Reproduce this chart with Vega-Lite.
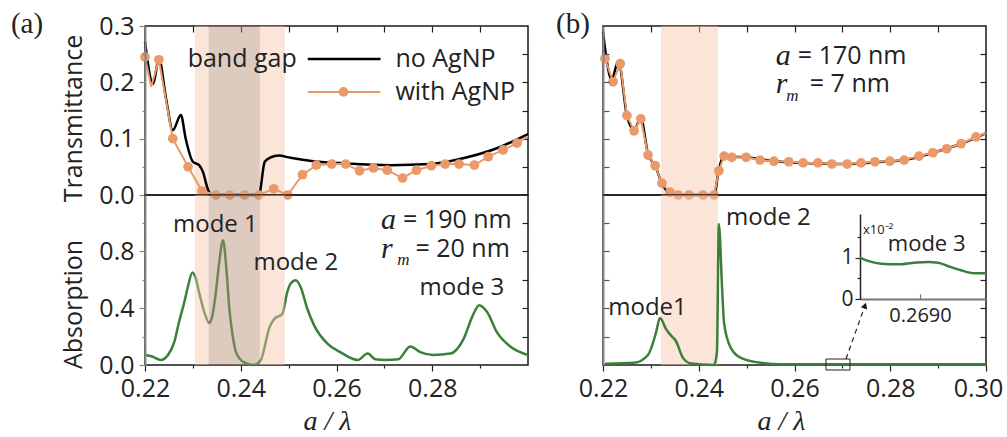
{
  "$schema": "https://vega.github.io/schema/vega-lite/v6.json",
  "background": "white",
  "padding": {"left": 10, "top": 8, "right": 2, "bottom": 4},
  "config": {
    "view": {"stroke": "#1a1a1a", "strokeWidth": 1.5},
    "axis": {"grid": false, "labelFont": "Open Sans", "titleFont": "Open Sans", "labelFontSize": 25, "titleFontSize": 25, "titleFontWeight": "normal", "labelColor": "#222", "titleColor": "#222", "tickColor": "#222", "tickWidth": 1.2, "domainColor": "#222", "domainWidth": 1.5, "labelFlush": false, "labelOverlap": false},
    "text": {"font": "Open Sans", "fontSize": 25, "color": "#222"}
  },
  "datasets": {
    "band_a": [{"x0": 0.2304, "x1": 0.2333, "kind": "light"}, {"x0": 0.2333, "x1": 0.2440, "kind": "dark"}, {"x0": 0.2440, "x1": 0.2492, "kind": "light"}],
    "band_b": [{"x0": 0.2321, "x1": 0.2440, "kind": "light"}],
    "black_a": [
      {"x": 0.2200, "t": 0.272}, {"x": 0.2217, "t": 0.197}, {"x": 0.2229, "t": 0.242}, {"x": 0.2244, "t": 0.171}, {"x": 0.2258, "t": 0.115}, {"x": 0.2275, "t": 0.142}, {"x": 0.2285, "t": 0.100}, {"x": 0.2300, "t": 0.059}, {"x": 0.2313, "t": 0.053}, {"x": 0.2321, "t": 0.041}, {"x": 0.2331, "t": 0.011}, {"x": 0.2338, "t": 0.0}, {"x": 0.2438, "t": 0.0}, {"x": 0.2450, "t": 0.059}, {"x": 0.2463, "t": 0.067}, {"x": 0.2479, "t": 0.070}, {"x": 0.2504, "t": 0.066}, {"x": 0.2552, "t": 0.060}, {"x": 0.2620, "t": 0.056}, {"x": 0.2713, "t": 0.053}, {"x": 0.2796, "t": 0.055}, {"x": 0.2873, "t": 0.067}, {"x": 0.2935, "t": 0.083}, {"x": 0.3000, "t": 0.108}
    ],
    "orange_a": [
      {"x": 0.2200, "t": 0.245}, {"x": 0.2213, "t": 0.192}, {"x": 0.2229, "t": 0.240}, {"x": 0.2258, "t": 0.100}, {"x": 0.2290, "t": 0.050}, {"x": 0.2319, "t": 0.007}, {"x": 0.2348, "t": 0.0}, {"x": 0.2377, "t": 0.0}, {"x": 0.2408, "t": 0.0}, {"x": 0.2438, "t": 0.0}, {"x": 0.2469, "t": 0.011}, {"x": 0.2498, "t": 0.0}, {"x": 0.2529, "t": 0.036}, {"x": 0.2558, "t": 0.053}, {"x": 0.2590, "t": 0.055}, {"x": 0.2619, "t": 0.055}, {"x": 0.2648, "t": 0.043}, {"x": 0.2677, "t": 0.048}, {"x": 0.2706, "t": 0.044}, {"x": 0.2738, "t": 0.030}, {"x": 0.2767, "t": 0.044}, {"x": 0.2798, "t": 0.052}, {"x": 0.2827, "t": 0.055}, {"x": 0.2856, "t": 0.055}, {"x": 0.2888, "t": 0.053}, {"x": 0.2917, "t": 0.068}, {"x": 0.2948, "t": 0.080}, {"x": 0.2977, "t": 0.092}, {"x": 0.3000, "t": 0.104}
    ],
    "orange_a_pts": [
      {"x": 0.2200, "t": 0.245}, {"x": 0.2229, "t": 0.240}, {"x": 0.2258, "t": 0.100}, {"x": 0.2290, "t": 0.050}, {"x": 0.2319, "t": 0.007}, {"x": 0.2348, "t": 0.0}, {"x": 0.2377, "t": 0.0}, {"x": 0.2408, "t": 0.0}, {"x": 0.2438, "t": 0.0}, {"x": 0.2469, "t": 0.011}, {"x": 0.2498, "t": 0.0}, {"x": 0.2529, "t": 0.036}, {"x": 0.2558, "t": 0.053}, {"x": 0.2590, "t": 0.055}, {"x": 0.2619, "t": 0.055}, {"x": 0.2648, "t": 0.043}, {"x": 0.2677, "t": 0.048}, {"x": 0.2706, "t": 0.044}, {"x": 0.2738, "t": 0.030}, {"x": 0.2767, "t": 0.044}, {"x": 0.2798, "t": 0.052}, {"x": 0.2827, "t": 0.055}, {"x": 0.2856, "t": 0.055}, {"x": 0.2888, "t": 0.053}, {"x": 0.2917, "t": 0.068}, {"x": 0.2948, "t": 0.080}, {"x": 0.2977, "t": 0.092}
    ],
    "green_a": [
      {"x": 0.2200, "a": 0.07}, {"x": 0.2215, "a": 0.06}, {"x": 0.2233, "a": 0.035}, {"x": 0.2248, "a": 0.07}, {"x": 0.2261, "a": 0.16}, {"x": 0.2271, "a": 0.30}, {"x": 0.2282, "a": 0.44}, {"x": 0.2289, "a": 0.54}, {"x": 0.2299, "a": 0.65}, {"x": 0.2306, "a": 0.61}, {"x": 0.2313, "a": 0.51}, {"x": 0.2324, "a": 0.37}, {"x": 0.2334, "a": 0.295}, {"x": 0.2341, "a": 0.35}, {"x": 0.2348, "a": 0.51}, {"x": 0.2355, "a": 0.72}, {"x": 0.2363, "a": 0.875}, {"x": 0.2371, "a": 0.63}, {"x": 0.2376, "a": 0.40}, {"x": 0.2383, "a": 0.21}, {"x": 0.2390, "a": 0.09}, {"x": 0.2406, "a": 0.02}, {"x": 0.2427, "a": 0.0}, {"x": 0.2442, "a": 0.035}, {"x": 0.2449, "a": 0.115}, {"x": 0.2459, "a": 0.255}, {"x": 0.2469, "a": 0.32}, {"x": 0.2487, "a": 0.36}, {"x": 0.2497, "a": 0.51}, {"x": 0.2504, "a": 0.57}, {"x": 0.2515, "a": 0.594}, {"x": 0.2525, "a": 0.547}, {"x": 0.2539, "a": 0.395}, {"x": 0.2553, "a": 0.28}, {"x": 0.2581, "a": 0.15}, {"x": 0.2608, "a": 0.09}, {"x": 0.2644, "a": 0.035}, {"x": 0.2665, "a": 0.08}, {"x": 0.2681, "a": 0.04}, {"x": 0.2702, "a": 0.035}, {"x": 0.2729, "a": 0.04}, {"x": 0.2754, "a": 0.13}, {"x": 0.2775, "a": 0.09}, {"x": 0.2802, "a": 0.07}, {"x": 0.2838, "a": 0.08}, {"x": 0.2865, "a": 0.18}, {"x": 0.2885, "a": 0.35}, {"x": 0.2898, "a": 0.42}, {"x": 0.2915, "a": 0.37}, {"x": 0.2935, "a": 0.23}, {"x": 0.2963, "a": 0.13}, {"x": 0.3000, "a": 0.07}
    ],
    "black_b": [
      {"x": 0.2200, "t": 0.290}, {"x": 0.2204, "t": 0.262}, {"x": 0.2218, "t": 0.205}, {"x": 0.2232, "t": 0.238}, {"x": 0.2250, "t": 0.141}, {"x": 0.2265, "t": 0.116}, {"x": 0.2279, "t": 0.136}, {"x": 0.2294, "t": 0.073}, {"x": 0.2309, "t": 0.052}, {"x": 0.2323, "t": 0.021}, {"x": 0.2340, "t": 0.003}, {"x": 0.2357, "t": 0.0}, {"x": 0.2432, "t": 0.0}, {"x": 0.2442, "t": 0.045}, {"x": 0.2453, "t": 0.070}, {"x": 0.2469, "t": 0.068}, {"x": 0.2499, "t": 0.067}, {"x": 0.2557, "t": 0.060}, {"x": 0.2649, "t": 0.056}, {"x": 0.2710, "t": 0.055}, {"x": 0.2768, "t": 0.058}, {"x": 0.2829, "t": 0.062}, {"x": 0.2889, "t": 0.075}, {"x": 0.2948, "t": 0.091}, {"x": 0.3000, "t": 0.110}
    ],
    "orange_b": [
      {"x": 0.2204, "t": 0.242}, {"x": 0.2221, "t": 0.201}, {"x": 0.2236, "t": 0.233}, {"x": 0.2250, "t": 0.141}, {"x": 0.2265, "t": 0.114}, {"x": 0.2279, "t": 0.135}, {"x": 0.2294, "t": 0.071}, {"x": 0.2309, "t": 0.052}, {"x": 0.2323, "t": 0.021}, {"x": 0.2340, "t": 0.005}, {"x": 0.2357, "t": 0.0}, {"x": 0.2380, "t": 0.0}, {"x": 0.2409, "t": 0.0}, {"x": 0.2432, "t": 0.0}, {"x": 0.2442, "t": 0.043}, {"x": 0.2453, "t": 0.069}, {"x": 0.2469, "t": 0.067}, {"x": 0.2499, "t": 0.067}, {"x": 0.2528, "t": 0.062}, {"x": 0.2557, "t": 0.060}, {"x": 0.2588, "t": 0.059}, {"x": 0.2618, "t": 0.057}, {"x": 0.2649, "t": 0.057}, {"x": 0.2678, "t": 0.055}, {"x": 0.2710, "t": 0.055}, {"x": 0.2739, "t": 0.057}, {"x": 0.2768, "t": 0.059}, {"x": 0.2799, "t": 0.060}, {"x": 0.2829, "t": 0.062}, {"x": 0.2860, "t": 0.069}, {"x": 0.2889, "t": 0.075}, {"x": 0.2918, "t": 0.082}, {"x": 0.2948, "t": 0.091}, {"x": 0.2979, "t": 0.103}, {"x": 0.3000, "t": 0.110}
    ],
    "orange_b_pts": [
      {"x": 0.2204, "t": 0.242}, {"x": 0.2221, "t": 0.201}, {"x": 0.2236, "t": 0.233}, {"x": 0.2250, "t": 0.141}, {"x": 0.2265, "t": 0.114}, {"x": 0.2279, "t": 0.135}, {"x": 0.2294, "t": 0.071}, {"x": 0.2309, "t": 0.052}, {"x": 0.2323, "t": 0.021}, {"x": 0.2340, "t": 0.005}, {"x": 0.2357, "t": 0.0}, {"x": 0.2380, "t": 0.0}, {"x": 0.2409, "t": 0.0}, {"x": 0.2432, "t": 0.0}, {"x": 0.2442, "t": 0.043}, {"x": 0.2453, "t": 0.069}, {"x": 0.2469, "t": 0.067}, {"x": 0.2499, "t": 0.067}, {"x": 0.2528, "t": 0.062}, {"x": 0.2557, "t": 0.060}, {"x": 0.2588, "t": 0.059}, {"x": 0.2618, "t": 0.057}, {"x": 0.2649, "t": 0.057}, {"x": 0.2678, "t": 0.055}, {"x": 0.2710, "t": 0.055}, {"x": 0.2739, "t": 0.057}, {"x": 0.2768, "t": 0.059}, {"x": 0.2799, "t": 0.060}, {"x": 0.2829, "t": 0.062}, {"x": 0.2860, "t": 0.069}, {"x": 0.2889, "t": 0.075}, {"x": 0.2918, "t": 0.082}, {"x": 0.2948, "t": 0.091}, {"x": 0.2979, "t": 0.103}
    ],
    "green_b": [
      {"x": 0.2204, "a": 0.008}, {"x": 0.2265, "a": 0.015}, {"x": 0.2294, "a": 0.07}, {"x": 0.2311, "a": 0.23}, {"x": 0.2319, "a": 0.33}, {"x": 0.2332, "a": 0.25}, {"x": 0.2344, "a": 0.20}, {"x": 0.2352, "a": 0.17}, {"x": 0.2367, "a": 0.05}, {"x": 0.2384, "a": 0.01}, {"x": 0.2432, "a": 0.0}, {"x": 0.2438, "a": 0.09}, {"x": 0.2442, "a": 0.99}, {"x": 0.2449, "a": 0.52}, {"x": 0.2453, "a": 0.29}, {"x": 0.2467, "a": 0.12}, {"x": 0.2488, "a": 0.05}, {"x": 0.2530, "a": 0.015}, {"x": 0.2572, "a": 0.006}, {"x": 0.3000, "a": 0.006}
    ],
    "inset_b": [
      {"ix": 0.26800, "iy": 1.007}, {"ix": 0.26813, "iy": 0.927}, {"ix": 0.26835, "iy": 0.861}, {"ix": 0.26863, "iy": 0.846}, {"ix": 0.26891, "iy": 0.885}, {"ix": 0.26913, "iy": 0.902}, {"ix": 0.26930, "iy": 0.885}, {"ix": 0.26946, "iy": 0.805}, {"ix": 0.26968, "iy": 0.700}, {"ix": 0.26991, "iy": 0.627}, {"ix": 0.27010, "iy": 0.627}
    ]
  },
  "hconcat": [
    {
      "vconcat": [
        {
          "width": 383, "height": 169,
          "layer": [
            {"data": {"name": "band_a"}, "mark": {"type": "rect", "opacity": 0.45},
             "encoding": {"x": {"field": "x0", "type": "quantitative", "scale": {"domain": [0.22, 0.3], "nice": false, "zero": false}, "axis": null}, "x2": {"field": "x1"},
               "color": {"field": "kind", "type": "nominal", "scale": {"domain": ["light", "dark"], "range": ["#F4C5A8", "#B38B71"]}, "legend": null}}},
            {"data": {"name": "black_a"}, "mark": {"type": "line", "color": "#000", "strokeWidth": 2.5, "interpolate": "monotone"},
             "encoding": {"x": {"field": "x", "type": "quantitative", "axis": null},
               "y": {"field": "t", "type": "quantitative", "scale": {"domain": [0, 0.3], "nice": false, "zero": false},
                 "axis": {"orient": "left", "values": [0, 0.05, 0.1, 0.15, 0.2, 0.25, 0.3], "labelExpr": "abs(datum.value*10-round(datum.value*10))<0.001 ? format(datum.value,'.1f') : ''", "tickSize": {"condition": {"test": "abs(datum.value*10-round(datum.value*10))<0.001", "value": 6}, "value": 3}, "labelPadding": 5, "title": "Transmittance", "titlePadding": 12, "titleY": 92, "domainColor": "#888", "domainWidth": 2, "tickColor": "#888", "zindex": 1}}}},
            {"data": {"name": "orange_a"}, "mark": {"type": "line", "color": "#EA9A6A", "strokeWidth": 2},
             "encoding": {"x": {"field": "x", "type": "quantitative", "axis": null}, "y": {"field": "t", "type": "quantitative", "axis": null}}},
            {"data": {"name": "orange_a_pts"}, "mark": {"type": "point", "filled": true, "color": "#EA9A6A", "size": 95, "opacity": 1},
             "encoding": {"x": {"field": "x", "type": "quantitative", "axis": null}, "y": {"field": "t", "type": "quantitative", "axis": null}}},
            {"data": {"values": [{}]}, "layer": [
              {"mark": {"type": "rule", "color": "#000", "strokeWidth": 2.5}, "encoding": {"x": {"datum": 0.2540, "axis": null}, "x2": {"datum": 0.2692}, "y": {"datum": 0.2416, "axis": null}}},
              {"mark": {"type": "rule", "color": "#EA9A6A", "strokeWidth": 2}, "encoding": {"x": {"datum": 0.2540, "axis": null}, "x2": {"datum": 0.2692}, "y": {"datum": 0.183, "axis": null}}},
              {"mark": {"type": "point", "filled": true, "color": "#EA9A6A", "size": 95, "opacity": 1}, "encoding": {"x": {"datum": 0.26146, "axis": null}, "y": {"datum": 0.183, "axis": null}}},
              {"mark": {"type": "text", "align": "right", "baseline": "middle"}, "encoding": {"x": {"datum": 0.2517, "axis": null}, "y": {"datum": 0.2416, "axis": null}, "text": {"value": "band gap"}}},
              {"mark": {"type": "text", "align": "left", "baseline": "middle"}, "encoding": {"x": {"datum": 0.2723, "axis": null}, "y": {"datum": 0.2416, "axis": null}, "text": {"value": "no AgNP"}}},
              {"mark": {"type": "text", "align": "left", "baseline": "middle"}, "encoding": {"x": {"datum": 0.2723, "axis": null}, "y": {"datum": 0.183, "axis": null}, "text": {"value": "with AgNP"}}},
              {"mark": {"type": "text", "align": "left", "baseline": "middle", "font": "Liberation Serif", "fontSize": 29, "color": "#222"}, "encoding": {"x": {"datum": 0.1920, "axis": null}, "y": {"datum": 0.3040, "axis": null}, "text": {"value": "(a)"}}}
            ]},
            {"data": {"name": "black_a"}, "mark": {"type": "line", "opacity": 0},
             "encoding": {"x": {"field": "x", "type": "quantitative", "axis": {"orient": "top", "values": [0.23, 0.24, 0.25, 0.26, 0.27, 0.28, 0.29], "labels": false, "tickSize": -6, "domain": false, "title": null}},
               "y": {"field": "t", "type": "quantitative", "axis": {"orient": "right", "values": [0.05, 0.1, 0.15, 0.2, 0.25], "labels": false, "tickSize": -6, "domain": false, "title": null}}}}
          ],
          "resolve": {"axis": {"x": "independent", "y": "independent"}}
        },
        {
          "width": 383, "height": 170,
          "layer": [
            {"data": {"name": "green_a"}, "mark": {"type": "line", "color": "#3B7F3B", "strokeWidth": 2.5, "interpolate": "monotone"},
             "encoding": {"x": {"field": "x", "type": "quantitative", "scale": {"domain": [0.22, 0.3], "nice": false, "zero": false},
                 "axis": {"orient": "bottom", "values": [0.22, 0.23, 0.24, 0.25, 0.26, 0.27, 0.28, 0.29], "labelExpr": "abs(datum.value*50-round(datum.value*50))<0.001 ? format(datum.value,'.2f') : ''", "tickSize": {"condition": {"test": "abs(datum.value*50-round(datum.value*50))<0.001", "value": 6}, "value": 3}, "labelPadding": 5, "domain": false, "title": "a / λ", "titleFont": "Liberation Serif", "titleFontStyle": "italic", "titleFontSize": 28, "titlePadding": 6, "titleX": 182}},
               "y": {"field": "a", "type": "quantitative", "scale": {"domain": [0, 1.193], "nice": false, "zero": false},
                 "axis": {"orient": "left", "values": [0, 0.2, 0.4, 0.6, 0.8, 1.0], "labelExpr": "abs(datum.value/0.4-round(datum.value/0.4))<0.001 ? format(datum.value,'.1f') : ''", "tickSize": {"condition": {"test": "abs(datum.value/0.4-round(datum.value/0.4))<0.001", "value": 6}, "value": 3}, "labelPadding": 5, "title": "Absorption", "titlePadding": 12, "titleY": 109, "domainColor": "#888", "domainWidth": 2, "tickColor": "#888", "zindex": 1}}}},
            {"data": {"name": "band_a"}, "mark": {"type": "rect", "opacity": 0.45},
             "encoding": {"x": {"field": "x0", "type": "quantitative", "axis": null}, "x2": {"field": "x1"},
               "color": {"field": "kind", "type": "nominal", "scale": {"domain": ["light", "dark"], "range": ["#F4C5A8", "#B38B71"]}, "legend": null}}},
            {"data": {"values": [{}]}, "layer": [
              {"mark": {"type": "text", "align": "center", "baseline": "middle", "fontSize": 24}, "encoding": {"x": {"datum": 0.2347, "axis": null}, "y": {"datum": 0.982, "axis": null}, "text": {"value": "mode 1"}}},
              {"mark": {"type": "text", "align": "center", "baseline": "middle", "fontSize": 24}, "encoding": {"x": {"datum": 0.2515, "axis": null}, "y": {"datum": 0.716, "axis": null}, "text": {"value": "mode 2"}}},
              {"mark": {"type": "text", "align": "center", "baseline": "middle", "fontSize": 24}, "encoding": {"x": {"datum": 0.2862, "axis": null}, "y": {"datum": 0.540, "axis": null}, "text": {"value": "mode 3"}}},
              {"mark": {"type": "text", "align": "left", "baseline": "middle", "font": "Liberation Serif", "fontStyle": "italic", "fontSize": 30}, "encoding": {"x": {"datum": 0.2693, "axis": null}, "y": {"datum": 1.018, "axis": null}, "text": {"value": "a"}}},
              {"mark": {"type": "text", "align": "left", "baseline": "middle"}, "encoding": {"x": {"datum": 0.2739, "axis": null}, "y": {"datum": 1.018, "axis": null}, "text": {"value": "= 190 nm"}}},
              {"mark": {"type": "text", "align": "left", "baseline": "middle", "font": "Liberation Serif", "fontStyle": "italic", "fontSize": 30}, "encoding": {"x": {"datum": 0.2693, "axis": null}, "y": {"datum": 0.814, "axis": null}, "text": {"value": "r"}}},
              {"mark": {"type": "text", "align": "left", "baseline": "middle", "font": "Liberation Serif", "fontStyle": "italic", "fontSize": 17}, "encoding": {"x": {"datum": 0.2727, "axis": null}, "y": {"datum": 0.735, "axis": null}, "text": {"value": "m"}}},
              {"mark": {"type": "text", "align": "left", "baseline": "middle"}, "encoding": {"x": {"datum": 0.2765, "axis": null}, "y": {"datum": 0.814, "axis": null}, "text": {"value": "= 20 nm"}}}
            ]},
            {"data": {"name": "green_a"}, "mark": {"type": "line", "opacity": 0},
             "encoding": {"x": {"field": "x", "type": "quantitative", "axis": null},
               "y": {"field": "a", "type": "quantitative", "axis": {"orient": "right", "values": [0.2, 0.4, 0.6, 0.8, 1.0], "labels": false, "tickSize": -6, "domain": false, "title": null}}}}
          ],
          "resolve": {"axis": {"x": "independent", "y": "independent"}}
        }
      ],
      "spacing": 0,
      "bounds": "flush"
    },
    {
      "vconcat": [
        {
          "width": 383, "height": 169,
          "layer": [
            {"data": {"name": "band_b"}, "mark": {"type": "rect", "opacity": 0.45, "color": "#F4C5A8"},
             "encoding": {"x": {"field": "x0", "type": "quantitative", "scale": {"domain": [0.22, 0.3], "nice": false, "zero": false}, "axis": null}, "x2": {"field": "x1"}}},
            {"data": {"name": "black_b"}, "mark": {"type": "line", "color": "#000", "strokeWidth": 2.5, "interpolate": "monotone"},
             "encoding": {"x": {"field": "x", "type": "quantitative", "axis": null},
               "y": {"field": "t", "type": "quantitative", "scale": {"domain": [0, 0.3], "nice": false, "zero": false},
                 "axis": {"orient": "left", "values": [0.05, 0.1, 0.15, 0.2, 0.25], "labels": false, "tickSize": -6, "title": null, "domainColor": "#888", "domainWidth": 2, "tickColor": "#555", "zindex": 1}}}},
            {"data": {"name": "orange_b"}, "mark": {"type": "line", "color": "#EA9A6A", "strokeWidth": 2},
             "encoding": {"x": {"field": "x", "type": "quantitative", "axis": null}, "y": {"field": "t", "type": "quantitative", "axis": null}}},
            {"data": {"name": "orange_b_pts"}, "mark": {"type": "point", "filled": true, "color": "#EA9A6A", "size": 95, "opacity": 1},
             "encoding": {"x": {"field": "x", "type": "quantitative", "axis": null}, "y": {"field": "t", "type": "quantitative", "axis": null}}},
            {"data": {"values": [{}]}, "layer": [
              {"mark": {"type": "text", "align": "left", "baseline": "middle", "font": "Liberation Serif", "fontSize": 29, "color": "#222"}, "encoding": {"x": {"datum": 0.2102, "axis": null}, "y": {"datum": 0.3040, "axis": null}, "text": {"value": "(b)"}}},
              {"mark": {"type": "text", "align": "left", "baseline": "middle", "font": "Liberation Serif", "fontStyle": "italic", "fontSize": 30}, "encoding": {"x": {"datum": 0.2561, "axis": null}, "y": {"datum": 0.2467, "axis": null}, "text": {"value": "a"}}},
              {"mark": {"type": "text", "align": "left", "baseline": "middle"}, "encoding": {"x": {"datum": 0.2607, "axis": null}, "y": {"datum": 0.2467, "axis": null}, "text": {"value": "= 170 nm"}}},
              {"mark": {"type": "text", "align": "left", "baseline": "middle", "font": "Liberation Serif", "fontStyle": "italic", "fontSize": 30}, "encoding": {"x": {"datum": 0.2561, "axis": null}, "y": {"datum": 0.197, "axis": null}, "text": {"value": "r"}}},
              {"mark": {"type": "text", "align": "left", "baseline": "middle", "font": "Liberation Serif", "fontStyle": "italic", "fontSize": 17}, "encoding": {"x": {"datum": 0.2583, "axis": null}, "y": {"datum": 0.1750, "axis": null}, "text": {"value": "m"}}},
              {"mark": {"type": "text", "align": "left", "baseline": "middle"}, "encoding": {"x": {"datum": 0.2632, "axis": null}, "y": {"datum": 0.197, "axis": null}, "text": {"value": "= 7 nm"}}}
            ]},
            {"data": {"name": "black_b"}, "mark": {"type": "line", "opacity": 0},
             "encoding": {"x": {"field": "x", "type": "quantitative", "axis": {"orient": "top", "values": [0.23, 0.24, 0.25, 0.26, 0.27, 0.28, 0.29], "labels": false, "tickSize": -6, "domain": false, "title": null}},
               "y": {"field": "t", "type": "quantitative", "axis": {"orient": "right", "values": [0.05, 0.1, 0.15, 0.2, 0.25], "labels": false, "tickSize": -6, "domain": false, "title": null}}}}
          ],
          "resolve": {"axis": {"x": "independent", "y": "independent"}}
        },
        {
          "width": 383, "height": 170,
          "layer": [
            {"data": {"name": "band_b"}, "mark": {"type": "rect", "opacity": 0.45, "color": "#F4C5A8"},
             "encoding": {"x": {"field": "x0", "type": "quantitative", "scale": {"domain": [0.22, 0.3], "nice": false, "zero": false}, "axis": null}, "x2": {"field": "x1"}}},
            {"data": {"name": "green_b"}, "mark": {"type": "line", "color": "#3B7F3B", "strokeWidth": 2.5, "interpolate": "monotone"},
             "encoding": {"x": {"field": "x", "type": "quantitative", "scale": {"domain": [0.22, 0.3], "nice": false, "zero": false},
                 "axis": {"orient": "bottom", "values": [0.22, 0.23, 0.24, 0.25, 0.26, 0.27, 0.28, 0.29, 0.3], "labelExpr": "abs(datum.value*50-round(datum.value*50))<0.001 ? format(datum.value,'.2f') : ''", "labelOffset": {"condition": {"test": "datum.value > 0.299", "value": -8}, "value": 0}, "tickSize": {"condition": {"test": "abs(datum.value*50-round(datum.value*50))<0.001", "value": 6}, "value": 3}, "labelPadding": 5, "domain": false, "title": "a / λ", "titleFont": "Liberation Serif", "titleFontStyle": "italic", "titleFontSize": 28, "titlePadding": 6, "titleX": 178}},
               "y": {"field": "a", "type": "quantitative", "scale": {"domain": [0, 1.193], "nice": false, "zero": false},
                 "axis": {"orient": "left", "values": [0.2, 0.4, 0.6, 0.8, 1.0], "labels": false, "tickSize": -6, "title": null, "domainColor": "#888", "domainWidth": 2, "tickColor": "#555", "zindex": 1}}}},
            {"data": {"values": [{}]}, "layer": [
              {"mark": {"type": "text", "align": "center", "baseline": "middle", "fontSize": 24}, "encoding": {"x": {"datum": 0.2293, "axis": null, "scale": {"domain": [0.22, 0.3], "nice": false, "zero": false}}, "y": {"datum": 0.40, "axis": null, "scale": {"domain": [0, 1.193], "nice": false, "zero": false}}, "text": {"value": "mode1"}}},
              {"mark": {"type": "text", "align": "left", "baseline": "middle", "fontSize": 24}, "encoding": {"x": {"datum": 0.2457, "axis": null}, "y": {"datum": 1.032, "axis": null}, "text": {"value": "mode 2"}}},
              {"mark": {"type": "text", "align": "left", "baseline": "middle", "fontSize": 13}, "encoding": {"x": {"datum": 0.2743, "axis": null}, "y": {"datum": 0.947, "axis": null}, "text": {"value": "x10⁻²"}}},
              {"mark": {"type": "text", "align": "center", "baseline": "middle", "fontSize": 22}, "encoding": {"x": {"datum": 0.2876, "axis": null}, "y": {"datum": 0.849, "axis": null}, "text": {"value": "mode 3"}}},
              {"mark": {"type": "rect", "filled": false, "stroke": "#222", "strokeWidth": 1}, "encoding": {"x": {"datum": 0.26657, "axis": null}, "x2": {"datum": 0.27159}, "y": {"datum": 0.042, "axis": null}, "y2": {"datum": -0.035}}},
              {"mark": {"type": "rule", "color": "#222", "strokeWidth": 1.2, "strokeDash": [5, 4]}, "encoding": {"x": {"datum": 0.27075, "axis": null}, "x2": {"datum": 0.27472}, "y": {"datum": 0.042, "axis": null}, "y2": {"datum": 0.417}}},
              {"mark": {"type": "point", "shape": "triangle-up", "filled": true, "color": "#111", "size": 45, "angle": 20, "opacity": 1}, "encoding": {"x": {"datum": 0.27472, "axis": null}, "y": {"datum": 0.417, "axis": null}}}
            ]},
            {"data": {"name": "green_b"}, "mark": {"type": "line", "opacity": 0},
             "encoding": {"x": {"field": "x", "type": "quantitative", "scale": {"domain": [0.22, 0.3], "nice": false, "zero": false}, "axis": null},
               "y": {"field": "a", "type": "quantitative", "scale": {"domain": [0, 1.193], "nice": false, "zero": false}, "axis": {"orient": "right", "values": [0.2, 0.4, 0.6, 0.8, 1.0], "labels": false, "tickSize": -6, "domain": false, "title": null}}}},
            {"data": {"name": "inset_b"}, "mark": {"type": "line", "color": "#3B7F3B", "strokeWidth": 2.5, "interpolate": "monotone"},
             "encoding": {
               "x": {"field": "ix", "type": "quantitative", "scale": {"domain": [0.268, 0.2701], "range": [257, 383], "nice": false, "zero": false},
                 "axis": {"orient": "bottom", "offset": -66, "values": [0.269], "format": ".4f", "tickSize": -5, "labelPadding": 11, "labelFontSize": 20, "title": null, "domainColor": "#777", "domainWidth": 2, "tickColor": "#777"}},
               "y": {"field": "iy", "type": "quantitative", "scale": {"domain": [0, 2.07], "range": [104, 19], "nice": false, "zero": false},
                 "axis": {"orient": "left", "offset": -257, "values": [0, 0.5, 1, 1.5], "labelExpr": "datum.value % 1 == 0 ? format(datum.value, 'd') : ''", "tickSize": {"condition": {"test": "datum.value % 1 == 0", "value": 5}, "value": 3}, "labelPadding": 2, "labelFontSize": 21, "title": null, "domainColor": "#222", "domainWidth": 1.5}}}}
          ],
          "resolve": {"scale": {"x": "independent", "y": "independent"}, "axis": {"x": "independent", "y": "independent"}}
        }
      ],
      "spacing": 0,
      "bounds": "flush"
    }
  ],
  "spacing": 21
}
